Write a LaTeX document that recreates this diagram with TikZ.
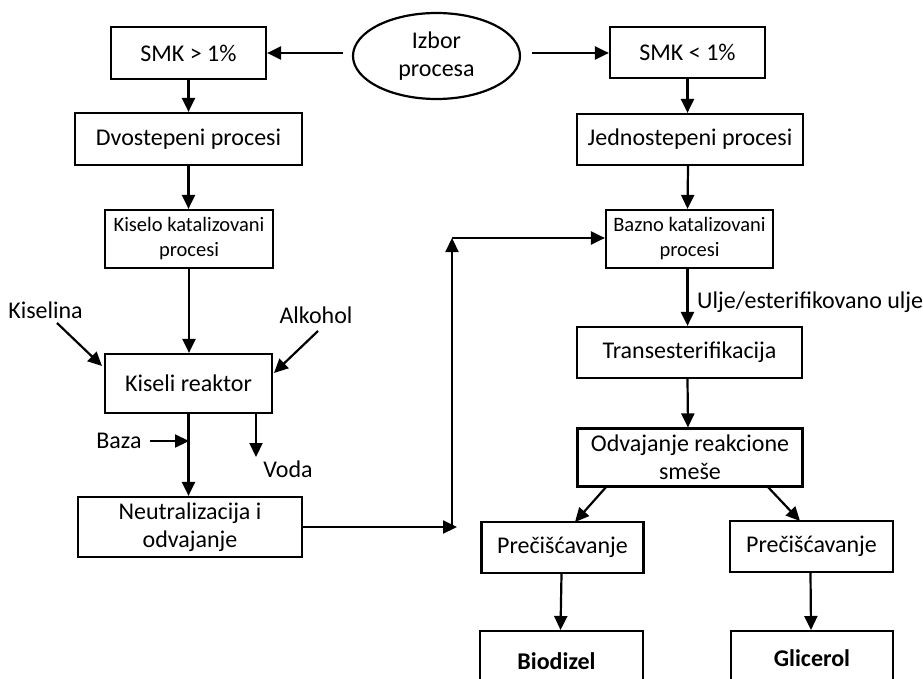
\documentclass[tikz,border=0pt]{standalone}
\usepackage{fontspec}
\setmainfont{Carlito}
\usetikzlibrary{shapes.geometric,arrows.meta}
\begin{document}
\begin{tikzpicture}[x=1pt,y=-1pt,
  box/.style={draw, line width=2.2pt, inner sep=0pt, align=center, font=\fontsize{24}{28}\selectfont},
  sbox/.style={box, font=\fontsize{20.5}{25}\selectfont},
  lbl/.style={inner sep=0pt, font=\fontsize{24}{28}\selectfont},
  arr/.style={line width=2.2pt, -{Triangle[length=14pt,width=13pt]}}]
\useasboundingbox (0,0) rectangle (923,679);
\clip (0,0) rectangle (923,679);
% nodes
\node[box, minimum width=155pt, minimum height=52pt] (smkA) at (188.5,53) {SMK > 1\%};
\node[box, ellipse, minimum width=167pt, minimum height=86pt] (ell) at (436.5,56) {Izbor\\procesa};
\node[box, minimum width=155pt, minimum height=51pt] (smkB) at (687.5,52.5) {SMK < 1\%};
\node[box, minimum width=227pt, minimum height=52pt] (dvo) at (188.5,139) {Dvostepeni procesi};
\node[box, minimum width=226pt, minimum height=51pt] (jed) at (690,139.5) {Jednostepeni procesi};
\node[sbox, minimum width=168pt, minimum height=58pt] (kis) at (189,239) {Kiselo katalizovani\\procesi};
\node[sbox, minimum width=167pt, minimum height=58pt] (baz) at (689.5,239) {Bazno katalizovani\\procesi};
\node[box, minimum width=167pt, minimum height=59pt] (reak) at (188.5,383.5) {Kiseli reaktor};
\node[box, minimum width=224pt, minimum height=60pt] (neut) at (190,527) {Neutralizacija i\\odvajanje};
\node[box, minimum width=225pt, minimum height=51pt] (trans) at (689.5,352.5) {Transesterifikacija};
\node[box, minimum width=225pt, minimum height=58pt] (odv) at (690,457.5) {Odvajanje reakcione\\smeše};
\node[box, minimum width=162pt, minimum height=51pt] (pre1) at (562.5,547.5) {Prečišćavanje};
\node[box, minimum width=163pt, minimum height=51pt] (pre2) at (811.5,546.5) {Prečišćavanje};
\node[box, minimum width=163pt, minimum height=60pt, anchor=north] (bio) at (561.5,630) {\textbf{Biodizel}\hspace*{10pt}};
\node[box, minimum width=162pt, minimum height=54pt, anchor=north] (gli) at (812,630) {\textbf{Glicerol}};
% labels
\node[lbl] (kslab) at (45.5,310) {Kiselina};
\node[lbl] (alklab) at (316,315) {Alkohol};
\node[lbl] (bazlab) at (119,441) {Baza};
\node[lbl] (vodlab) at (288,469) {Voda};
\node[lbl, anchor=west] (uljlab) at (697,302) {Ulje/esterifikovano ulje};
% coordinates
\coordinate (eA) at (343,53);
\coordinate (eB) at (532,53);
\coordinate (ksA) at (57,323);
\coordinate (ksB) at (102,366);
\coordinate (alA) at (318,331);
\coordinate (alB) at (274,373);
\coordinate (bzA) at (150,441);
\coordinate (bzB) at (189,441);
\coordinate (vdA) at (256,413);
\coordinate (vdB) at (256,457);
\coordinate (c1) at (457,527);
\coordinate (c1b) at (452,527);
\coordinate (c2) at (452,238);
\coordinate (oL) at (607,486);
\coordinate (oLt) at (575,522);
\coordinate (oR) at (767,486);
\coordinate (oRt) at (800,521);
% connectors
\draw[arr] (eA) -- (smkA.east |- eA);
\draw[arr] (eB) -- (smkB.west |- eB);
\draw[arr] (smkA.south) -- (dvo.north -| smkA.south);
\draw[arr] (dvo.south) -- (kis.north -| dvo.south);
\draw[arr] (kis.south) -- (reak.north -| kis.south);
\draw[arr] (reak.south) -- (neut.north -| reak.south);
\draw[arr] (ksA) -- (ksB);
\draw[arr] (alA) -- (alB);
\draw[arr] (bzA) -- (bzB);
\draw[arr] (vdA) -- (vdB);
\draw[arr] (neut.east |- c1) -- (c1);
\draw[arr] (c1b) -- (c2);
\draw[arr] (c2) -- (baz.west |- c2);
\draw[arr] (smkB.south) -- (jed.north -| smkB.south);
\draw[arr] ([xshift=-2pt]jed.south) -- ([xshift=-2pt]baz.north);
\draw[arr] ([xshift=-2pt]baz.south) -- ([xshift=-2pt]trans.north);
\draw[arr] ([xshift=-2pt]trans.south) -- ([xshift=-2pt]odv.north);
\draw[arr] (oL) -- (oLt);
\draw[arr] (oR) -- (oRt);
\draw[arr] ([xshift=-1pt]pre1.south) -- ([xshift=-1pt]bio.north);
\draw[arr] ([xshift=-1pt]pre2.south) -- ([xshift=-1pt]gli.north);
\end{tikzpicture}
\end{document}
